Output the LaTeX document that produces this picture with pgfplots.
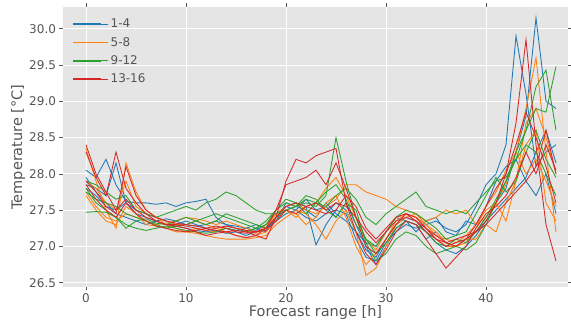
\documentclass[border=0pt]{standalone}
\usepackage{pgfplots}
\usepackage{pgfplotstable}
\pgfplotsset{compat=1.18}
\usepackage{fontspec}
\setmainfont{DejaVu Sans}
\definecolor{tabblue}{HTML}{1F77B4}
\definecolor{taborange}{HTML}{FF7F0E}
\definecolor{tabgreen}{HTML}{2CA02C}
\definecolor{tabred}{HTML}{D62728}
\definecolor{ggbg}{HTML}{E5E5E5}
\definecolor{ggtext}{HTML}{555555}
\pgfplotstableread{
x b1 b2 b3 b4 o1 o2 o3 o4 g1 g2 g3 g4 r1 r2 r3 r4
0 28.05 27.85 27.95 27.80 27.90 28.35 27.75 27.70 27.47 27.90 27.80 27.75 28.40 28.30 27.90 27.85
1 27.95 27.80 27.75 27.70 27.80 27.90 27.55 27.50 27.48 27.85 27.60 27.65 28.00 27.95 27.75 27.65
2 28.20 27.70 27.60 27.55 27.60 27.50 27.40 27.35 27.47 27.75 27.50 27.60 27.75 27.70 27.55 27.50
3 27.85 28.15 27.45 27.50 27.50 27.25 27.35 27.30 27.40 27.65 27.40 27.55 27.50 28.30 27.45 27.40
4 27.62 27.60 27.40 27.60 27.90 28.15 27.45 27.55 27.25 27.70 27.30 27.45 27.65 27.80 28.10 27.60
5 27.60 27.45 27.35 27.50 27.55 27.75 27.40 27.45 27.35 27.50 27.25 27.40 27.50 27.60 27.70 27.45
6 27.60 27.40 27.30 27.45 27.45 27.50 27.35 27.30 27.38 27.45 27.22 27.35 27.40 27.45 27.50 27.35
7 27.58 27.35 27.35 27.40 27.40 27.40 27.30 27.28 27.32 27.40 27.25 27.30 27.35 27.35 27.40 27.28
8 27.60 27.38 27.30 27.35 27.35 27.30 27.32 27.25 27.30 27.45 27.28 27.25 27.30 27.30 27.35 27.25
9 27.55 27.35 27.28 27.30 27.30 27.25 27.35 27.20 27.35 27.50 27.25 27.28 27.28 27.30 27.32 27.22
10 27.60 27.30 27.25 27.35 27.30 27.20 27.40 27.20 27.40 27.55 27.22 27.30 27.25 27.28 27.30 27.20
11 27.62 27.28 27.22 27.30 27.35 27.18 27.38 27.25 27.35 27.50 27.20 27.35 27.20 27.25 27.28 27.22
12 27.65 27.30 27.20 27.25 27.30 27.15 27.35 27.22 27.30 27.60 27.18 27.40 27.15 27.22 27.25 27.25
13 27.40 27.35 27.22 27.20 27.25 27.12 27.30 27.20 27.35 27.65 27.20 27.45 27.18 27.25 27.22 27.28
14 27.30 27.30 27.18 27.25 27.20 27.10 27.35 27.28 27.45 27.75 27.25 27.40 27.20 27.28 27.20 27.25
15 27.28 27.25 27.20 27.22 27.15 27.10 27.30 27.25 27.40 27.70 27.22 27.35 27.15 27.25 27.22 27.20
16 27.25 27.20 27.15 27.25 27.12 27.10 27.25 27.22 27.35 27.60 27.20 27.30 27.12 27.22 27.20 27.18
17 27.22 27.25 27.20 27.30 27.15 27.12 27.20 27.18 27.30 27.50 27.25 27.25 27.15 27.20 27.15 27.20
18 27.30 27.20 27.25 27.25 27.20 27.15 27.25 27.30 27.25 27.45 27.30 27.35 27.10 27.25 27.25 27.22
19 27.45 27.40 27.35 27.35 27.35 27.30 27.45 27.45 27.40 27.45 27.50 27.50 27.40 27.50 27.40 27.35
20 27.55 27.55 27.45 27.60 27.50 27.40 27.55 27.50 27.50 27.50 27.60 27.65 27.90 27.85 27.55 27.50
21 27.60 27.50 27.50 27.55 27.40 27.50 27.60 27.45 27.55 27.55 27.55 27.60 28.20 27.90 27.60 27.45
22 27.55 27.65 27.40 27.50 27.55 27.45 27.50 27.30 27.60 27.65 27.70 27.45 28.15 27.95 27.55 27.55
23 27.02 27.50 27.35 27.40 27.60 27.30 27.45 27.40 27.55 27.60 27.65 27.60 28.25 28.05 27.50 27.60
24 27.30 27.55 27.45 27.60 27.80 27.10 27.55 27.60 27.70 27.55 27.50 27.75 28.30 27.85 27.45 27.50
25 27.50 27.40 27.60 27.45 27.95 27.35 27.65 27.70 28.50 27.70 27.40 27.85 28.35 28.15 27.50 27.60
26 27.45 27.60 27.50 27.35 27.70 27.50 27.85 27.40 27.90 27.80 27.60 27.65 27.60 27.80 27.70 27.55
27 27.10 27.30 27.20 27.20 27.40 27.20 27.85 27.00 27.40 27.65 27.50 27.30 27.20 27.40 27.55 27.40
28 26.85 27.00 26.95 27.05 27.10 26.60 27.75 26.75 27.10 27.40 27.05 27.10 26.90 27.00 27.25 27.20
29 26.80 26.75 26.85 27.00 26.95 26.70 27.70 26.90 26.90 27.30 26.80 27.00 26.75 26.90 27.10 27.05
30 27.05 27.00 27.10 27.20 27.20 27.00 27.65 27.10 27.05 27.45 26.90 27.20 26.95 27.10 27.25 27.20
31 27.20 27.25 27.30 27.40 27.40 27.30 27.55 27.35 27.25 27.55 27.10 27.40 27.20 27.30 27.40 27.35
32 27.30 27.35 27.40 27.35 27.45 27.40 27.50 27.45 27.35 27.65 27.20 27.50 27.35 27.45 27.45 27.40
33 27.25 27.30 27.35 27.20 27.40 27.45 27.45 27.40 27.30 27.75 27.15 27.45 27.30 27.40 27.35 27.35
34 27.30 27.10 27.20 27.35 27.30 27.30 27.35 27.25 27.20 27.55 27.00 27.35 27.10 27.25 27.20 27.25
35 27.35 27.20 27.05 27.40 27.15 27.20 27.40 27.10 27.05 27.50 26.90 27.25 26.90 27.10 27.10 27.15
36 27.25 27.05 26.95 27.20 27.10 27.05 27.50 27.00 27.00 27.45 26.95 27.10 26.70 27.00 27.05 27.05
37 27.20 27.00 26.90 27.15 27.05 27.00 27.45 27.00 27.10 27.50 27.00 27.15 26.85 27.05 27.00 27.10
38 27.30 27.10 27.00 27.35 27.15 27.10 27.50 27.05 27.05 27.45 26.95 27.20 27.00 27.10 27.10 27.15
39 27.55 27.20 27.15 27.30 27.30 27.10 27.30 27.25 27.20 27.60 27.05 27.45 27.25 27.30 27.20 27.20
40 27.85 27.40 27.35 27.55 27.50 27.30 27.40 27.55 27.40 27.75 27.30 27.70 27.45 27.55 27.35 27.30
41 28.00 27.60 27.50 27.90 27.60 27.20 27.60 27.75 27.65 27.90 27.60 27.95 27.55 27.80 27.60 27.45
42 28.40 27.80 27.65 28.10 27.85 27.60 27.35 28.05 27.90 27.95 27.90 27.75 27.70 28.00 28.00 27.60
43 29.90 28.30 27.80 28.20 28.30 27.90 27.90 28.30 28.20 28.20 28.30 27.90 27.95 28.40 28.70 27.75
44 29.10 28.80 27.95 27.90 28.90 28.40 28.70 28.00 28.60 28.40 28.60 28.30 28.30 28.85 29.85 27.90
45 28.10 30.15 28.30 27.70 29.60 28.60 28.90 28.20 28.90 28.30 29.20 28.60 28.00 28.50 28.40 28.10
46 28.30 29.00 28.60 28.00 28.30 27.60 28.50 27.90 28.85 28.00 29.43 28.20 28.40 28.10 27.30 28.60
47 28.40 28.90 28.15 27.45 27.20 27.35 28.00 27.55 29.48 27.70 28.60 27.95 28.05 27.60 26.80 28.00
}\data
\begin{document}
\begin{tikzpicture}
\useasboundingbox (-63pt,-39pt) rectangle (508pt,287pt);
\begin{axis}[
  scale only axis, width=505pt, height=280pt,
  xmin=-2.3, xmax=48.2, ymin=26.44, ymax=30.30,
  xtick={0,10,20,30,40}, ytick={26.5,27,27.5,28,28.5,29,29.5,30},
  yticklabel style={/pgf/number format/.cd, fixed, fixed zerofill, precision=1},
  /pgf/number format/assume math mode=true,
  axis background/.style={fill=ggbg},
  axis line style={draw=none},
  grid=major, major grid style={white, line width=0.9pt},
  tick align=outside, major tick length=3.5pt,
  tick style={ggtext, line width=0.6pt},
  ticklabel style={font=\fontsize{12}{14}\selectfont, text=ggtext},
  xlabel={Forecast range [h]}, ylabel={Temperature [°C]},
  label style={font=\fontsize{14.5}{17}\selectfont, text=ggtext},
  xlabel style={at={(rel axis cs:0.5,0)}, anchor=center, yshift=-26pt},
  ylabel style={at={(rel axis cs:-0.0891,0.5)}, anchor=center},
  legend style={at={(rel axis cs:0.012,0.972)}, anchor=north west, draw=none, fill=none,
    font=\fontsize{12}{14}\selectfont, text=ggtext, row sep=4pt},
  legend cell align=left,
  legend image code/.code={\draw[#1, line width=1.9pt] (0pt,0pt) -- (28pt,0pt); \path (0pt,0pt) -- (35pt,0pt);},
  every axis plot/.append style={line width=0.85pt},
]
\addplot[draw=tabblue, forget plot] table[x=x,y=b1]{\data};
\addplot[draw=tabblue, forget plot] table[x=x,y=b2]{\data};
\addplot[draw=tabblue, forget plot] table[x=x,y=b3]{\data};
\addplot[draw=tabblue, forget plot] table[x=x,y=b4]{\data};
\addplot[draw=taborange, forget plot] table[x=x,y=o1]{\data};
\addplot[draw=taborange, forget plot] table[x=x,y=o2]{\data};
\addplot[draw=taborange, forget plot] table[x=x,y=o3]{\data};
\addplot[draw=taborange, forget plot] table[x=x,y=o4]{\data};
\addplot[draw=tabgreen, forget plot] table[x=x,y=g1]{\data};
\addplot[draw=tabgreen, forget plot] table[x=x,y=g2]{\data};
\addplot[draw=tabgreen, forget plot] table[x=x,y=g3]{\data};
\addplot[draw=tabgreen, forget plot] table[x=x,y=g4]{\data};
\addplot[draw=tabred, forget plot] table[x=x,y=r1]{\data};
\addplot[draw=tabred, forget plot] table[x=x,y=r2]{\data};
\addplot[draw=tabred, forget plot] table[x=x,y=r3]{\data};
\addplot[draw=tabred, forget plot] table[x=x,y=r4]{\data};
\addlegendimage{draw=tabblue}\addlegendentry{1-4}
\addlegendimage{draw=taborange}\addlegendentry{5-8}
\addlegendimage{draw=tabgreen}\addlegendentry{9-12}
\addlegendimage{draw=tabred}\addlegendentry{13-16}
\end{axis}
\end{tikzpicture}
\end{document}
